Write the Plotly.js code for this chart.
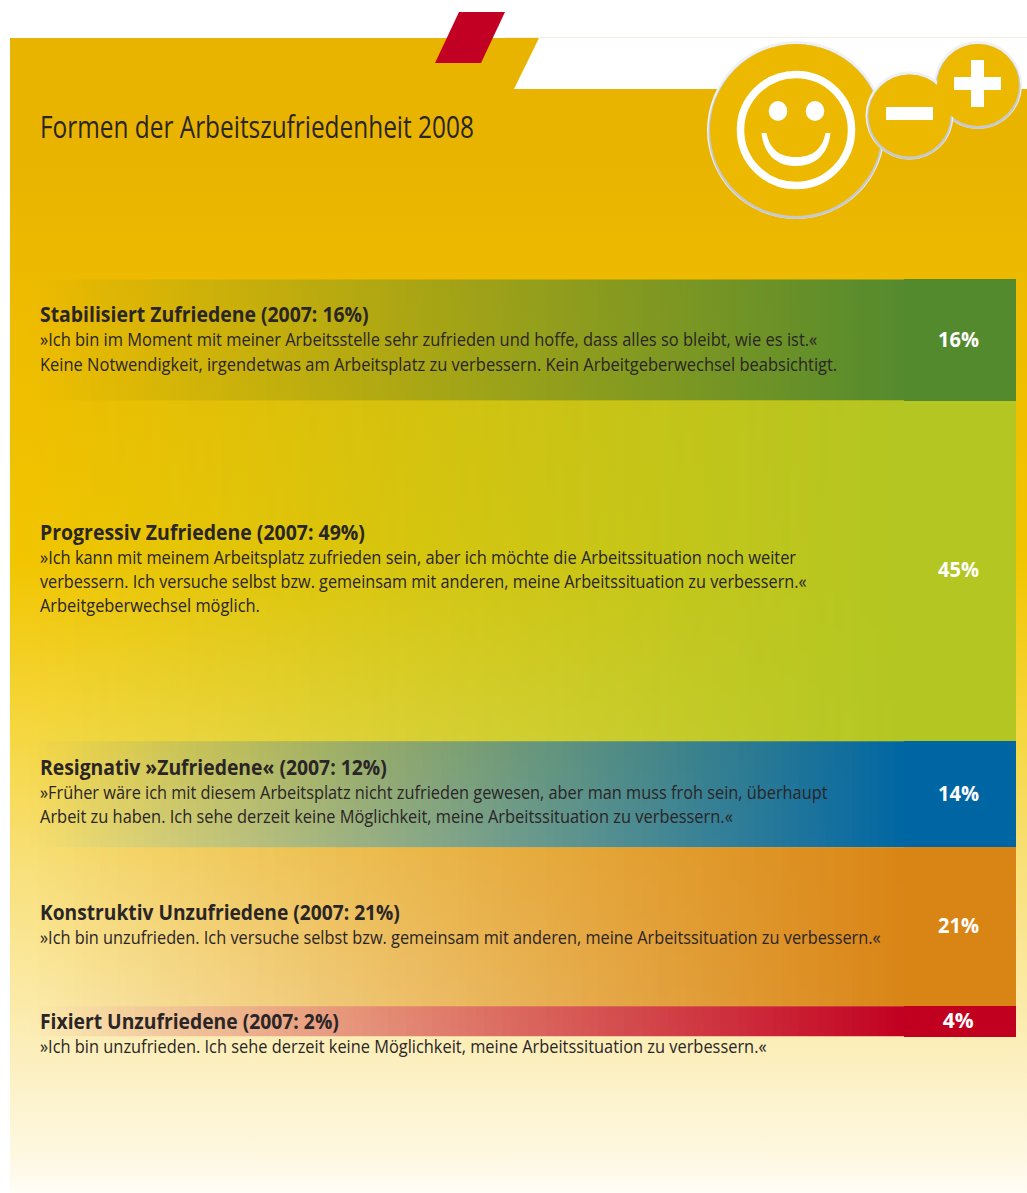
<!DOCTYPE html>
<html><head><meta charset="utf-8">
<script src="https://cdn.plot.ly/plotly-3.0.1.min.js"></script>
<style>
html,body{margin:0;padding:0;background:#fff;}
#bg{position:absolute;left:10px;top:38px;width:1017px;height:1155px;
background:linear-gradient(to bottom,#E9B400 0,#E9B400 130px,#EEBB00 260px,#F1C500 520px,#F5D63A 680px,#F8E07A 830px,#FBEAA6 960px,#FCF1C6 1040px,#FEF8E2 1120px,#FFFDF6 1155px);}
#chart{position:absolute;left:0;top:0;width:1027px;height:1193px;}
</style></head><body>
<div id="bg"></div><div id="chart"></div>
<script>
const title = "Formen der Arbeitszufriedenheit 2008";
const categories = ["Stabilisiert Zufriedene","Progressiv Zufriedene","Resignativ »Zufriedene«","Konstruktiv Unzufriedene","Fixiert Unzufriedene"];
const values2008 = [16,45,14,21,4];
const values2007 = [16,49,12,21,2];
const colors = ["84,138,46","179,198,34","0,102,163","217,133,22","193,0,32"];
const quotes = [
 ["»Ich bin im Moment mit meiner Arbeitsstelle sehr zufrieden und hoffe, dass alles so bleibt, wie es ist.«","Keine Notwendigkeit, irgendetwas am Arbeitsplatz zu verbessern. Kein Arbeitgeberwechsel beabsichtigt."],
 ["»Ich kann mit meinem Arbeitsplatz zufrieden sein, aber ich möchte die Arbeitssituation noch weiter","verbessern. Ich versuche selbst bzw. gemeinsam mit anderen, meine Arbeitssituation zu verbessern.«","Arbeitgeberwechsel möglich."],
 ["»Früher wäre ich mit diesem Arbeitsplatz nicht zufrieden gewesen, aber man muss froh sein, überhaupt","Arbeit zu haben. Ich sehe derzeit keine Möglichkeit, meine Arbeitssituation zu verbessern.«"],
 ["»Ich bin unzufrieden. Ich versuche selbst bzw. gemeinsam mit anderen, meine Arbeitssituation zu verbessern.«"],
 ["»Ich bin unzufrieden. Ich sehe derzeit keine Möglichkeit, meine Arbeitssituation zu verbessern.«"]
];
const headY = [313.5,531.5,766.5,911.5,1020.5];
const lineYs = [[338.5,363.5],[556.5,580.5,604.5],[791.5,815.5],[936.5],[1045.5]];
const headRight = [369,365,387,400,339];
const lineRight = [[818,838],[797,807,260],[828,733],[881],[767]];
const titleRight = 474;
const pctWidth = 41;
const FONT = "'Open Sans','Noto Sans',sans-serif";
const INK = "#2a2526";
const LEFT = 40;

// decorative fade of each band towards its solid end
const fadeEdges=[], fadeLevels=[];
for(let i=0;i<=100;i++) fadeEdges.push(30+i*8.74);
for(let i=0;i<100;i++) fadeLevels.push((i+0.5)/100);
fadeEdges.push(904); fadeLevels.push(1);

const traces=[]; let cum=0;
const ann=[], widths=[];
function label(x,y,text,size,bold,right){ann.push({xref:"x",yref:"y2",x,y,xanchor:"left",yanchor:"middle",showarrow:false,align:"left",xshift:-2,
  text:bold?`<b>${text}</b>`:text,font:{family:FONT,size,color:INK}});widths.push(right-LEFT);}
label(LEFT,125.5,title,30.5,false,titleRight);
categories.forEach((c,i)=>{
  label(LEFT,headY[i],`${c} (2007: ${values2007[i]}%)`,21.5,true,headRight[i]);
  quotes[i].forEach((q,j)=>label(LEFT,lineYs[i][j],q,18.5,false,lineRight[i][j]));
});
values2008.forEach((v,i)=>{
  traces.push({type:"heatmap",x:fadeEdges,y:[cum,cum+v],z:[fadeLevels],zmin:0,zmax:1,showscale:false,hoverinfo:"skip",
    colorscale:[[0,`rgba(${colors[i]},0)`],[1,`rgba(${colors[i]},1)`]]});
  ann.push({xref:"x",yref:"y",x:958.5,y:cum+v/2,yshift:2.5,xanchor:"center",yanchor:"middle",showarrow:false,
    text:`<b>${v}%</b>`,font:{family:FONT,size:22,color:"#fff"}});widths.push(v<10?31:pctWidth);
  cum+=v;
});
values2008.forEach((v,i)=>{
  traces.push({type:"bar",name:categories[i],x:[960],y:[v],width:[112],marker:{color:`rgb(${colors[i]})`,line:{width:0}},hoverinfo:"skip"});
});

const shapes=[];
function rawPath(d,fill){shapes.push({type:"path",xref:"x",yref:"y2",path:d,fillcolor:fill,line:{width:0}});}
function ell(cx,cy,rx,ry,fill,line,lw){shapes.push({type:"circle",xref:"x",yref:"y2",x0:cx-rx,x1:cx+rx,y0:cy-ry,y1:cy+ry,fillcolor:fill,line:line?{color:line,width:lw}:{width:0}});}
function rect(x0,y0,x1,y1,fill){shapes.push({type:"rect",xref:"x",yref:"y2",x0,x1,y0,y1,fillcolor:fill,line:{width:0}});}
rect(0,0,1027,38,"#ffffff");
rawPath("M539 38 L514 89 L1027 89 L1027 38 Z","#ffffff");
rect(505,37,1027,38,"#f6eedd");
rawPath("M459 12 L505 12 L481 63 L435 63 Z","#c10023");
const rings=[[796,130,89],[978,85,44],[909.5,115.5,44]];
function ring(c){ell(c[0],c[1],c[2],c[2],"#eef0f2");ell(c[0],c[1]+1.5,c[2]-1.5,c[2]-1.5,"#c8c9cb");}
function disc(c,f){ell(c[0],c[1],c[2]-3,c[2]-3,f);}
ring(rings[0]);disc(rings[0],"#ecb800");
ring(rings[1]);ring(rings[2]);
disc(rings[1],"#ecb900");disc(rings[2],"#ecb900");
ell(796,130,55.5,55.5,"rgba(0,0,0,0)","#ffffff",7.5);
ell(778,111,9.3,10,"#ffffff");ell(815,111,9.3,10,"#ffffff");
rawPath("M761.5 133 L766.5 133 C770 150 780 157 796 157 C812 157 822 150 825.5 133 L830.5 133 C828 155 815 166 796 166 C777 166 764 155 761.5 133 Z","#ffffff");
rect(886,107,933,120,"#ffffff");
rect(954,77,1001,90,"#ffffff");rect(971,60,984,107,"#ffffff");

Plotly.newPlot("chart",traces,{
  width:1027,height:1193,margin:{l:0,r:0,t:0,b:0},paper_bgcolor:"rgba(0,0,0,0)",plot_bgcolor:"rgba(0,0,0,0)",
  barmode:"stack",showlegend:false,
  xaxis:{range:[0,1027],visible:false,fixedrange:true},
  yaxis:{range:[120.67,-36.92],visible:false,fixedrange:true},
  yaxis2:{range:[1193,0],visible:false,overlaying:"y",fixedrange:true},
  shapes,annotations:ann
},{displayModeBar:false,staticPlot:true}).then(gd=>{
  // condense the text horizontally: the installed fonts have no condensed cut like the reference's
  gd.querySelectorAll(".annotation").forEach(g=>{
    const i=+g.getAttribute("data-index"), t=g.querySelector("text.annotation-text");
    const s=widths[i]/t.getComputedTextLength();
    const X=parseFloat(t.getAttribute("x"))||0;
    t.setAttribute("transform",`translate(${X},0) scale(${s.toFixed(4)},1) translate(${-X},0)`);
    const r=g.querySelector("rect.bg");
    if(r&&ann[i].xanchor==="left") r.setAttribute("width",widths[i]+4);
  });
});
</script></body></html>
